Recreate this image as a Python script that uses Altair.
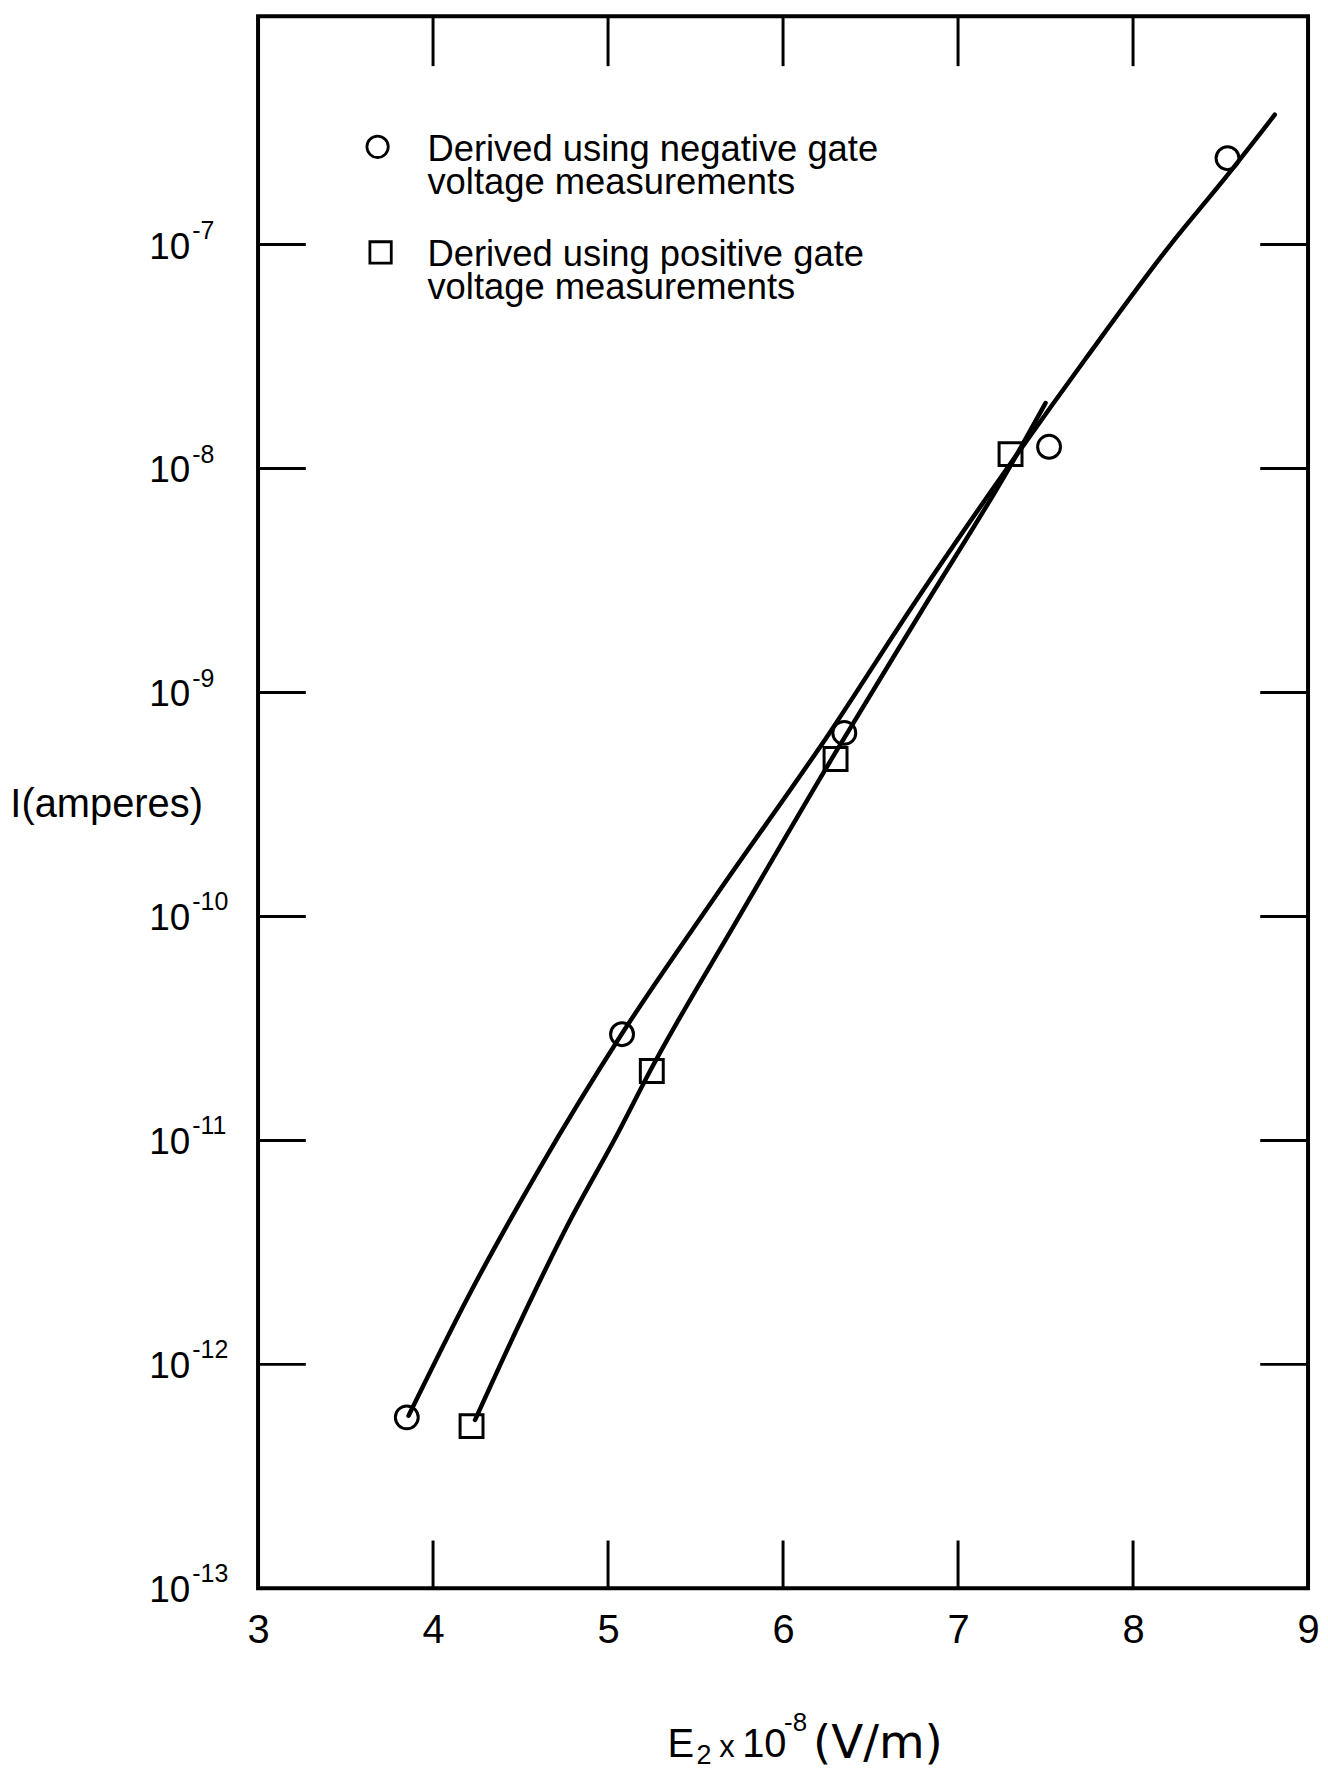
import altair as alt
import pandas as pd

# ---------------- data ----------------
# smooth curve through the "negative gate" points (E2 x 1e-8 V/m, I amperes)
neg_curve_x = [3.86, 4.20, 4.60, 5.08, 5.62, 6.26, 6.76, 7.28, 7.73, 8.21, 8.53, 8.81]
neg_curve_i = [5.9e-13, 2.0e-12, 7.3e-12, 3.0e-11, 1.25e-10, 6.5e-10, 2.57e-9,
               1.0e-8, 3.1e-8, 9.9e-8, 2.0e-7, 3.8e-7]
# smooth curve through the "positive gate" points
pos_curve_x = [4.24, 4.49, 4.77, 5.06, 5.24, 5.74, 6.30, 6.79, 7.29, 7.50]
pos_curve_i = [5.65e-13, 1.5e-12, 4.2e-12, 1.09e-11, 2.04e-11, 9.7e-11, 5.4e-10,
               2.3e-9, 1.0e-8, 1.96e-8]
# measured points
neg_x = [3.85, 5.08, 6.35, 7.52, 8.54]
neg_i = [5.8e-13, 2.98e-11, 6.6e-10, 1.25e-8, 2.43e-7]
pos_x = [4.22, 5.25, 6.30, 7.30]
pos_i = [5.3e-13, 2.04e-11, 5.05e-10, 1.16e-8]

# axis ticks / labels
x_labels = [3, 4, 5, 6, 7, 8, 9]
x_inner_ticks = [4, 5, 6, 7, 8]
y_exponents = [-13, -12, -11, -10, -9, -8, -7]
y_inner_exponents = [-12, -11, -10, -9, -8, -7]

legend_neg = ["Derived using negative gate", "voltage measurements"]
legend_pos = ["Derived using positive gate", "voltage measurements"]
y_title = "I(amperes)"
x_title_parts = ["E", "2", "x", "10", "-8", "(V/m)"]

# ---------------- chart ----------------
W, H = 1054, 1578
FONT = "Liberation Sans"
WIDE = "DejaVu Sans"

xscale = alt.Scale(domain=[3, 9], nice=False, zero=False)
yscale = alt.Scale(type="log", domain=[1e-13, 1.045e-6], nice=False)
xaxis = alt.Axis(values=x_labels, format="d", domain=False, ticks=False, tickSize=0,
                 grid=False, labelFont=FONT, labelFontSize=40, labelColor="black",
                 labelPadding=22, labelFlush=False, labelOverlap=False)
X = alt.X("x:Q", scale=xscale, axis=xaxis, title=None)
Y = alt.Y("i:Q", scale=yscale, axis=None)

curves = pd.concat([
    pd.DataFrame({"series": "neg", "x": neg_curve_x, "i": neg_curve_i}),
    pd.DataFrame({"series": "pos", "x": pos_curve_x, "i": pos_curve_i}),
])
lines = alt.Chart(curves).mark_line(color="black", strokeWidth=4.5, interpolate="monotone",
                                    strokeCap="round").encode(x=X, y=Y, detail="series:N")

neg_pts = alt.Chart(pd.DataFrame({"x": neg_x, "i": neg_i})).mark_point(
    shape="circle", filled=False, color="black", strokeWidth=3, size=529, opacity=1
).encode(x=X, y=Y)
pos_pts = alt.Chart(pd.DataFrame({"x": pos_x, "i": pos_i})).mark_point(
    shape="square", filled=False, color="black", strokeWidth=3, size=529, opacity=1
).encode(x=X, y=Y)

xt = pd.DataFrame({"x": x_inner_ticks})
top_ticks = alt.Chart(xt).mark_rule(color="black", strokeWidth=3).encode(
    x=X, y=alt.value(0), y2=alt.value(50))
bot_ticks = alt.Chart(xt).mark_rule(color="black", strokeWidth=3).encode(
    x=X, y=alt.value(H - 48), y2=alt.value(H))
yt = pd.DataFrame({"i": [10.0 ** e for e in y_inner_exponents]})
left_ticks = alt.Chart(yt).mark_rule(color="black", strokeWidth=3).encode(
    y=Y, x=alt.value(0), x2=alt.value(48))
right_ticks = alt.Chart(yt).mark_rule(color="black", strokeWidth=3).encode(
    y=Y, x=alt.value(W - 48), x2=alt.value(W))

ylab = pd.DataFrame({"i": [10.0 ** e for e in y_exponents],
                     "base": ["10"] * len(y_exponents),
                     "sup": [str(e) for e in y_exponents]})
ylab_base = alt.Chart(ylab).mark_text(font=FONT, fontSize=37, align="right",
                                      baseline="alphabetic", dy=14, color="black").encode(
    y=Y, x=alt.value(-68), text="base:N")
ylab_sup = alt.Chart(ylab).mark_text(font=FONT, fontSize=25, align="left",
                                     baseline="alphabetic", dy=-6, color="black").encode(
    y=Y, x=alt.value(-66), text="sup:N")


def label(text, x, y, size, align="left", font=FONT):
    return alt.Chart(pd.DataFrame({"t": [text]})).mark_text(
        font=font, fontSize=size, align=align, baseline="alphabetic", color="black"
    ).encode(x=alt.value(x), y=alt.value(y), text="t:N")


def symbol(shape, x, y, size):
    return alt.Chart(pd.DataFrame({"t": [shape]})).mark_point(
        shape=shape, filled=False, color="black", strokeWidth=2.8, size=size, opacity=1
    ).encode(x=alt.value(x), y=alt.value(y))


legend = [
    symbol("circle", 120, 131, 460),
    label(legend_neg[0], 170, 145, 36.5),
    label(legend_neg[1], 170, 178, 36.5),
    symbol("square", 123, 237, 460),
    label(legend_pos[0], 170, 251, 36.5),
    label(legend_pos[1], 170, 284, 36.5),
]

titles = [
    label(y_title, -152, 804, 40, align="center"),
    label(x_title_parts[0], 411, 1747, 40),
    label(x_title_parts[1], 440, 1754, 27),
    label(x_title_parts[2], 463, 1747, 31),
    label(x_title_parts[3], 486, 1747, 40),
    label(x_title_parts[4], 528, 1721, 26),
    label(x_title_parts[5], 557, 1748, 47, font=WIDE),
]

chart = alt.layer(
    lines, neg_pts, pos_pts, top_ticks, bot_ticks, left_ticks, right_ticks,
    ylab_base, ylab_sup, *legend, *titles
).properties(
    width=W, height=H,
    padding={"left": 251, "top": 5, "right": 12, "bottom": 179},
    autosize=alt.AutoSizeParams(type="none"),
    background="white",
).configure_view(stroke="black", strokeWidth=4)

chart.save("out.html", embed_options={"renderer": "svg", "actions": False})
